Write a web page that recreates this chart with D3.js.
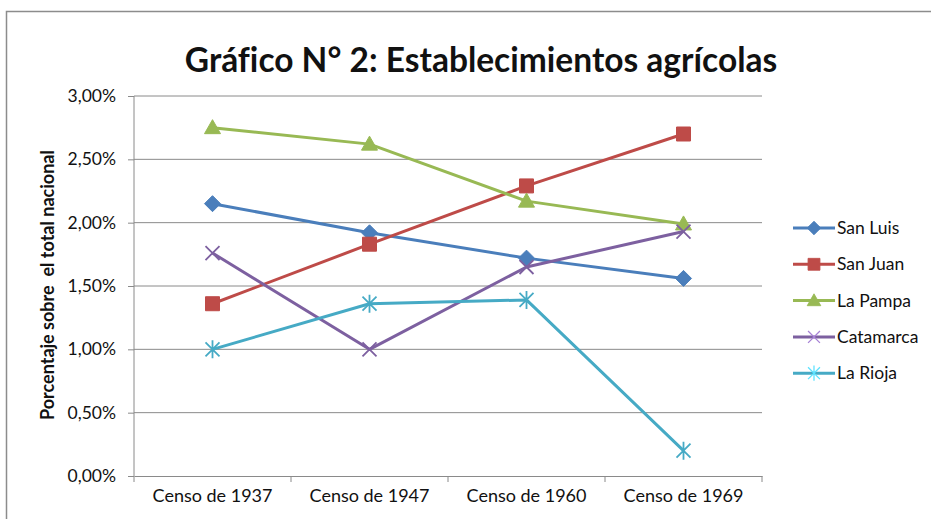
<!DOCTYPE html>
<html>
<head>
<meta charset="utf-8">
<script src="https://cdn.jsdelivr.net/npm/d3@7"></script>
<style>
  body { margin: 0; background: #fff; }
  svg { font-family: Lato, 'Open Sans', sans-serif; font-variant-ligatures: none; }
</style>
</head>
<body>
<script>
// Datos del gráfico
const censos = ['Censo de 1937', 'Censo de 1947', 'Censo de 1960', 'Censo de 1969']
const provincias = ['San Luis', 'San Juan', 'La Pampa', 'Catamarca', 'La Rioja']
const sanLuis = [2.15, 1.92, 1.72, 1.56]
const sanJuan = [1.36, 1.83, 2.29, 2.70]
const laPampa = [2.75, 2.62, 2.17, 1.99]
const catamarca = [1.76, 1.00, 1.65, 1.93]
const laRioja = [1.00, 1.36, 1.39, 0.20]
const yTicks = [0, 0.5, 1, 1.5, 2, 2.5, 3]

const series = [
	{ name: provincias[0], values: sanLuis, color: '#4A7EBB', marker: 'diamond' },
	{ name: provincias[1], values: sanJuan, color: '#BE4B48', marker: 'square' },
	{ name: provincias[2], values: laPampa, color: '#98B954', marker: 'triangle' },
	{ name: provincias[3], values: catamarca, color: '#7D60A0', marker: 'x' },
	{ name: provincias[4], values: laRioja, color: '#46AAC5', marker: 'asterisk' }
]

const width = 931
const height = 519
const plot = { left: 134, right: 762, top: 96, bottom: 476 }

const svg = d3.select('body').append('svg').attr('width', width).attr('height', height)

// borde del gráfico
svg.append('rect')
	.attr('x', 6.5).attr('y', 11.5)
	.attr('width', 1000).attr('height', 1000)
	.attr('fill', 'none').attr('stroke', '#8c8c8c').attr('stroke-width', 1.5)

const xscale = d3.scaleBand().domain(censos).range([plot.left, plot.right])
const yscale = d3.scaleLinear().domain([0, 3]).range([plot.bottom, plot.top])

// grid
svg.append('g').selectAll('line').data(yTicks.slice(1)).join('line')
	.attr('x1', plot.left).attr('x2', plot.right)
	.attr('y1', d => yscale(d)).attr('y2', d => yscale(d))
	.attr('stroke', '#8a8a8a').attr('stroke-width', 1)

// axes
const fmt = d => d.toFixed(2).replace('.', ',') + '%'
const yaxis = d3.axisLeft(yscale).tickValues(yTicks).tickFormat(fmt).tickSize(6).tickPadding(12)
const g_yaxis = svg.append('g').attr('transform', `translate(${plot.left},0)`).call(yaxis)
const xaxis = d3.axisBottom(xscale).tickSize(0).tickPadding(13)
const g_xaxis = svg.append('g').attr('transform', `translate(0,${plot.bottom})`).call(xaxis)

for (const g of [g_yaxis, g_xaxis]) {
	g.select('.domain').attr('stroke', '#8a8a8a')
	g.selectAll('line').attr('stroke', '#8a8a8a')
	g.selectAll('text').attr('font-family', 'Lato').attr('font-size', 17.5).attr('fill', '#111')
}
g_xaxis.selectAll('text').attr('font-size', 18)
g_yaxis.select('.domain').attr('d', `M0,${plot.top}V${plot.bottom}`)

// marcas de categorías del eje x
svg.append('g').selectAll('line').data(censos.concat(['end'])).join('line')
	.attr('x1', (d, i) => plot.left + i * xscale.step())
	.attr('x2', (d, i) => plot.left + i * xscale.step())
	.attr('y1', plot.bottom).attr('y2', plot.bottom + 6)
	.attr('stroke', '#8a8a8a')

// titles
svg.append('text')
	.attr('x', 481).attr('y', 72)
	.attr('text-anchor', 'middle')
	.attr('font-size', 33.5).attr('font-weight', 'bold').attr('fill', '#111')
	.text('Gráfico N° 2: Establecimientos agrícolas')

svg.append('text')
	.attr('transform', 'translate(54,285) rotate(-90)')
	.attr('text-anchor', 'middle')
	.attr('font-size', 18).attr('font-weight', 'bold').attr('fill', '#111')
	.style('white-space', 'pre')
	.text('Porcentaje sobre  el total nacional')

// marker paths
function markerPath(type) {
	switch (type) {
		case 'diamond': return 'M0,-8L8,0L0,8L-8,0Z'
		case 'square': return 'M-7,-7H7V7H-7Z'
		case 'triangle': return 'M0,-8L8,6H-8Z'
		case 'x': return 'M-7,-7L7,7M-7,7L7,-7'
		case 'asterisk': return 'M-7,-7L7,7M-7,7L7,-7M0,-9V9'
	}
}
const filled = t => t === 'diamond' || t === 'square' || t === 'triangle'

const line = d3.line()
	.x((d, i) => xscale(censos[i]) + xscale.bandwidth() / 2)
	.y(d => yscale(d))

const gs = svg.append('g').selectAll('g').data(series).join('g')
gs.append('path')
	.attr('d', d => line(d.values))
	.attr('fill', 'none').attr('stroke', d => d.color).attr('stroke-width', 3)
	.attr('stroke-linejoin', 'round')
gs.each(function (s) {
	d3.select(this).selectAll('path.m').data(s.values).join('path')
		.attr('class', 'm')
		.attr('transform', (d, i) => `translate(${xscale(censos[i]) + xscale.bandwidth() / 2},${yscale(d)})`)
		.attr('d', markerPath(s.marker))
		.attr('fill', filled(s.marker) ? s.color : 'none')
		.attr('stroke', s.color)
		.attr('stroke-width', filled(s.marker) ? 1 : 1.8)
})

// legend
const legend = svg.append('g').selectAll('g').data(series).join('g')
	.attr('transform', (d, i) => `translate(793,${228 + i * 36.3})`)
legend.append('line')
	.attr('x1', 0).attr('x2', 42)
	.attr('stroke', d => d.color).attr('stroke-width', 3)
legend.append('path')
	.attr('transform', 'translate(21,0) scale(0.85)')
	.attr('d', d => markerPath(d.marker))
	.attr('fill', d => filled(d.marker) ? d.color : 'none')
	.attr('stroke', d => filled(d.marker) ? d.color : d3.color(d.color).brighter(0.8))
	.attr('stroke-width', d => filled(d.marker) ? 1 : 1.5)
legend.append('text')
	.attr('x', 44).attr('y', 0).attr('dy', '0.35em')
	.attr('font-size', 17.5).attr('fill', '#111')
	.text(d => d.name)
</script>
</body>
</html>
